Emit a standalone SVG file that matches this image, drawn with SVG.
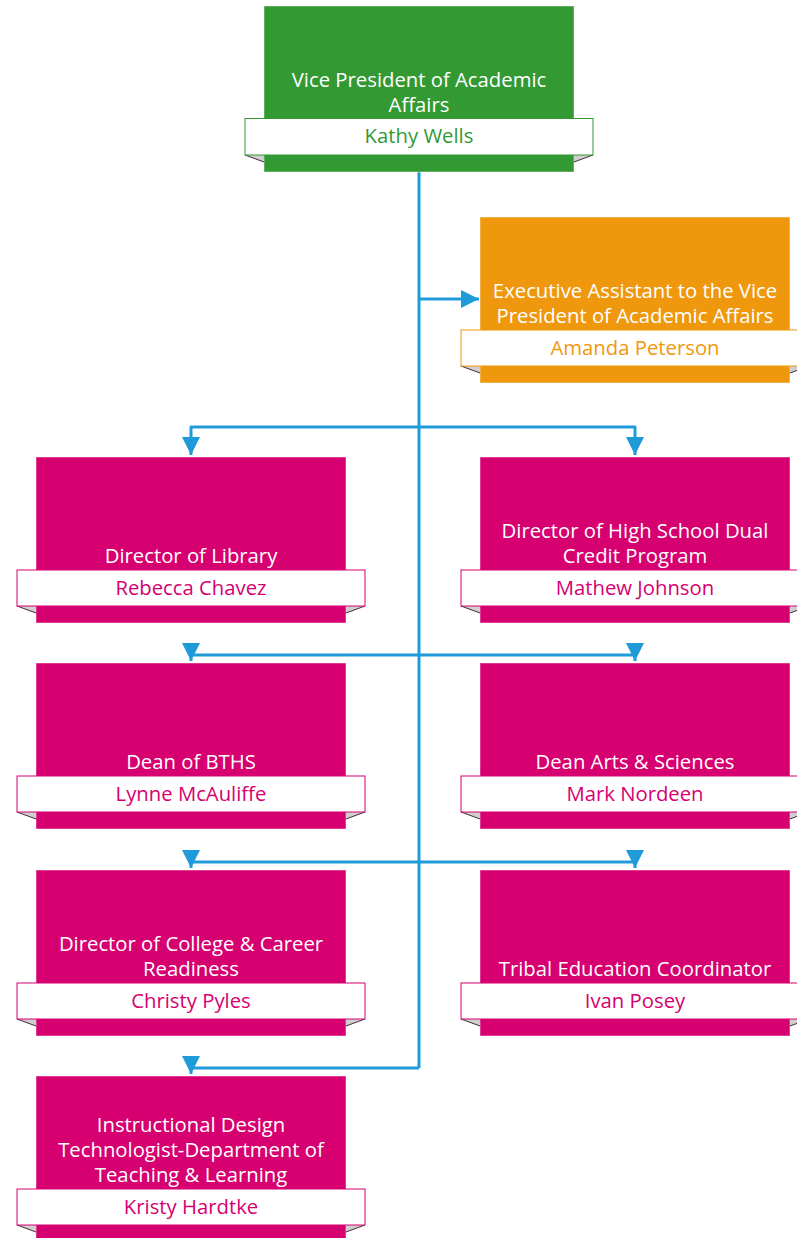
<svg xmlns="http://www.w3.org/2000/svg" width="797" height="1238" viewBox="0 0 797 1238">
  <defs>
    <style>
      .title { font-family: "Open Sans", "Noto Sans", sans-serif; font-size: 20.3px; fill: #ffffff; text-anchor: middle; }
      .name { font-family: "Open Sans", "Noto Sans", sans-serif; font-size: 20.3px; text-anchor: middle; }
      .box { stroke: #ffffff; stroke-opacity: 0.45; stroke-width: 1; }
      .namebox { fill: #ffffff; stroke-width: 1; }
      .fold { fill: #cfcfcf; stroke: none; }
      .foldedge { stroke: #4a2a3a; stroke-width: 1; fill: none; }
      .conn { fill: none; stroke: #1e9bd8; stroke-width: 3; stroke-linejoin: round; }
      .pink { fill: #d60070; }
      .green { fill: #339933; }
      .orange { fill: #ef980e; }
    </style>
    <marker id="arr" markerUnits="userSpaceOnUse" markerWidth="18" markerHeight="18" refX="18" refY="9" orient="auto" viewBox="0 0 18 18">
      <path d="M0,0 L18,9 L0,18 z" fill="#1e9bd8"/>
    </marker>
  </defs>

  <g id="connectors">
    <path class="conn" d="M419,172 V1068"/>
    <path class="conn" d="M419,299 H479" marker-end="url(#arr)"/>
    <path class="conn" d="M419,427 H191 V455" marker-end="url(#arr)"/>
    <path class="conn" d="M419,427 H635 V455" marker-end="url(#arr)"/>
    <path class="conn" d="M419,655 H191 V661" marker-end="url(#arr)"/>
    <path class="conn" d="M419,655 H635 V661" marker-end="url(#arr)"/>
    <path class="conn" d="M419,862 H191 V868" marker-end="url(#arr)"/>
    <path class="conn" d="M419,862 H635 V868" marker-end="url(#arr)"/>
    <path class="conn" d="M419,1068 H191 V1074" marker-end="url(#arr)"/>
  </g>

  <!-- Vice President -->
  <g id="node-vp">
    <rect class="box green" x="264" y="6" width="310" height="166"/>
    <polygon class="fold" points="245,155 264,155 264,162"/>
    <line class="foldedge" x1="245" y1="155" x2="264" y2="162"/>
    <polygon class="fold" points="593,155 574,155 574,162"/>
    <line class="foldedge" x1="593" y1="155" x2="574" y2="162"/>
    <rect class="namebox" x="245" y="118.5" width="348" height="36.5" stroke="#339933"/>
    <text class="title" x="419" y="87">Vice President of Academic</text>
    <text class="title" x="419" y="112">Affairs</text>
    <text class="name" x="419" y="143" fill="#339933">Kathy Wells</text>
  </g>

  <!-- Executive Assistant -->
  <g id="node-ea">
    <rect class="box orange" x="480" y="217" width="310" height="166"/>
    <polygon class="fold" points="461,366 480,366 480,373"/>
    <line class="foldedge" x1="461" y1="366" x2="480" y2="373"/>
    <polygon class="fold" points="809,366 790,366 790,373"/>
    <line class="foldedge" x1="809" y1="366" x2="790" y2="373"/>
    <rect class="namebox" x="461" y="330" width="348" height="36" stroke="#ef980e"/>
    <text class="title" x="635" y="298">Executive Assistant to the Vice</text>
    <text class="title" x="635" y="323">President of Academic Affairs</text>
    <text class="name" x="635" y="355" fill="#ef980e">Amanda Peterson</text>
  </g>

  <!-- Director of Library -->
  <g id="node-library">
    <rect class="box pink" x="36" y="457" width="310" height="166"/>
    <polygon class="fold" points="17,606 36,606 36,613"/>
    <line class="foldedge" x1="17" y1="606" x2="36" y2="613"/>
    <polygon class="fold" points="365,606 346,606 346,613"/>
    <line class="foldedge" x1="365" y1="606" x2="346" y2="613"/>
    <rect class="namebox" x="17" y="570" width="348" height="36" stroke="#d60070"/>
    <text class="title" x="191" y="563">Director of Library</text>
    <text class="name" x="191" y="595" fill="#d60070">Rebecca Chavez</text>
  </g>

  <!-- Dual Credit -->
  <g id="node-dualcredit">
    <rect class="box pink" x="480" y="457" width="310" height="166"/>
    <polygon class="fold" points="461,606 480,606 480,613"/>
    <line class="foldedge" x1="461" y1="606" x2="480" y2="613"/>
    <polygon class="fold" points="809,606 790,606 790,613"/>
    <line class="foldedge" x1="809" y1="606" x2="790" y2="613"/>
    <rect class="namebox" x="461" y="570" width="348" height="36" stroke="#d60070"/>
    <text class="title" x="635" y="538">Director of High School Dual</text>
    <text class="title" x="635" y="563">Credit Program</text>
    <text class="name" x="635" y="595" fill="#d60070">Mathew Johnson</text>
  </g>

  <!-- Dean of BTHS -->
  <g id="node-bths">
    <rect class="box pink" x="36" y="663" width="310" height="166"/>
    <polygon class="fold" points="17,812 36,812 36,819"/>
    <line class="foldedge" x1="17" y1="812" x2="36" y2="819"/>
    <polygon class="fold" points="365,812 346,812 346,819"/>
    <line class="foldedge" x1="365" y1="812" x2="346" y2="819"/>
    <rect class="namebox" x="17" y="776" width="348" height="36" stroke="#d60070"/>
    <text class="title" x="191" y="769">Dean of BTHS</text>
    <text class="name" x="191" y="801" fill="#d60070">Lynne McAuliffe</text>
  </g>

  <!-- Dean Arts & Sciences -->
  <g id="node-arts">
    <rect class="box pink" x="480" y="663" width="310" height="166"/>
    <polygon class="fold" points="461,812 480,812 480,819"/>
    <line class="foldedge" x1="461" y1="812" x2="480" y2="819"/>
    <polygon class="fold" points="809,812 790,812 790,819"/>
    <line class="foldedge" x1="809" y1="812" x2="790" y2="819"/>
    <rect class="namebox" x="461" y="776" width="348" height="36" stroke="#d60070"/>
    <text class="title" x="635" y="769">Dean Arts &amp; Sciences</text>
    <text class="name" x="635" y="801" fill="#d60070">Mark Nordeen</text>
  </g>

  <!-- College & Career Readiness -->
  <g id="node-college">
    <rect class="box pink" x="36" y="870" width="310" height="166"/>
    <polygon class="fold" points="17,1019 36,1019 36,1026"/>
    <line class="foldedge" x1="17" y1="1019" x2="36" y2="1026"/>
    <polygon class="fold" points="365,1019 346,1019 346,1026"/>
    <line class="foldedge" x1="365" y1="1019" x2="346" y2="1026"/>
    <rect class="namebox" x="17" y="983" width="348" height="36" stroke="#d60070"/>
    <text class="title" x="191" y="951">Director of College &amp; Career</text>
    <text class="title" x="191" y="976">Readiness</text>
    <text class="name" x="191" y="1008" fill="#d60070">Christy Pyles</text>
  </g>

  <!-- Tribal Education -->
  <g id="node-tribal">
    <rect class="box pink" x="480" y="870" width="310" height="166"/>
    <polygon class="fold" points="461,1019 480,1019 480,1026"/>
    <line class="foldedge" x1="461" y1="1019" x2="480" y2="1026"/>
    <polygon class="fold" points="809,1019 790,1019 790,1026"/>
    <line class="foldedge" x1="809" y1="1019" x2="790" y2="1026"/>
    <rect class="namebox" x="461" y="983" width="348" height="36" stroke="#d60070"/>
    <text class="title" x="635" y="976">Tribal Education Coordinator</text>
    <text class="name" x="635" y="1008" fill="#d60070">Ivan Posey</text>
  </g>

  <!-- Instructional Design -->
  <g id="node-instructional">
    <rect class="box pink" x="36" y="1076" width="310" height="166"/>
    <polygon class="fold" points="17,1225 36,1225 36,1232"/>
    <line class="foldedge" x1="17" y1="1225" x2="36" y2="1232"/>
    <polygon class="fold" points="365,1225 346,1225 346,1232"/>
    <line class="foldedge" x1="365" y1="1225" x2="346" y2="1232"/>
    <rect class="namebox" x="17" y="1189" width="348" height="36" stroke="#d60070"/>
    <text class="title" x="191" y="1132">Instructional Design</text>
    <text class="title" x="191" y="1157">Technologist-Department of</text>
    <text class="title" x="191" y="1182">Teaching &amp; Learning</text>
    <text class="name" x="191" y="1214" fill="#d60070">Kristy Hardtke</text>
  </g>
</svg>
